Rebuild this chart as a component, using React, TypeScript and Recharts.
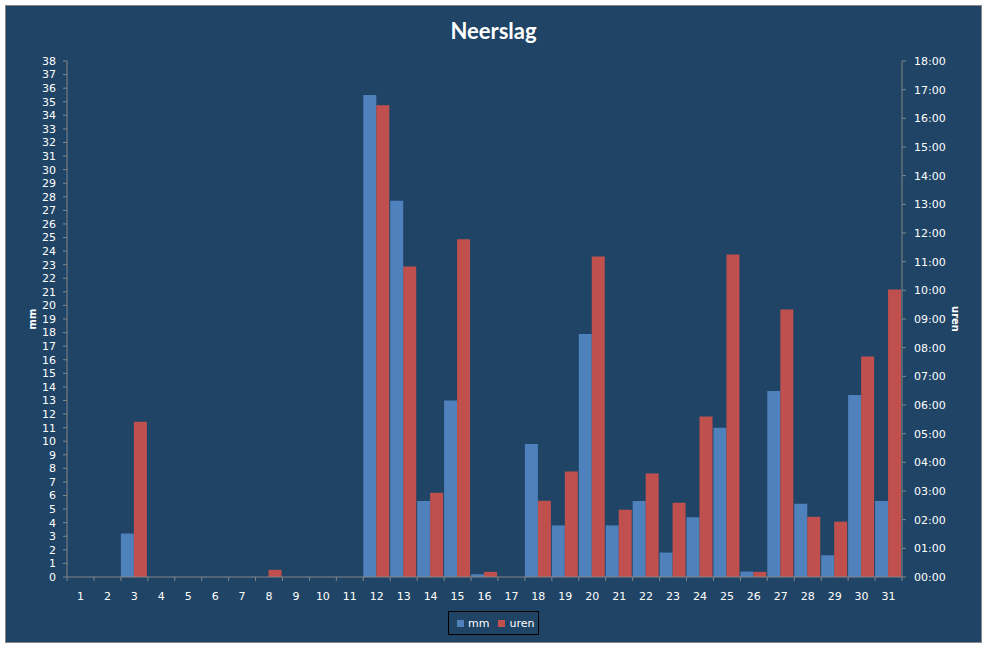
import React from 'react';
import { BarChart, Bar, XAxis, YAxis, Legend } from 'recharts';

const days = ['1','2','3','4','5','6','7','8','9','10','11','12','13','14','15','16','17','18','19','20','21','22','23','24','25','26','27','28','29','30','31'];
const mmValues = [0,0,3.2,0,0,0,0,0,0,0,0,35.5,27.7,5.6,13.0,0.2,0,9.8,3.8,17.9,3.8,5.6,1.8,4.4,11.0,0.4,13.7,5.4,1.6,13.4,5.6];
const urenValues = [0,0,5.42,0,0,0,0,0.25,0,0,0,16.46,10.83,2.94,11.78,0.18,0,2.66,3.68,11.18,2.35,3.61,2.59,5.6,11.25,0.18,9.33,2.1,1.93,7.69,10.03];
const leftTicks = [0,1,2,3,4,5,6,7,8,9,10,11,12,13,14,15,16,17,18,19,20,21,22,23,24,25,26,27,28,29,30,31,32,33,34,35,36,37,38];
const rightTicks = [0,1,2,3,4,5,6,7,8,9,10,11,12,13,14,15,16,17,18];
const rightTickLabels = ['00:00','01:00','02:00','03:00','04:00','05:00','06:00','07:00','08:00','09:00','10:00','11:00','12:00','13:00','14:00','15:00','16:00','17:00','18:00'];

const data = days.map((d, i) => ({ day: d, mm: mmValues[i], uren: urenValues[i] }));

const BG = '#1F4466';
const BLUE = '#4F81BD';
const RED = '#C0504D';
const AXIS = '#868686';
const FONT = 'DejaVu Sans';

const CategoryTick = (props: any) => {
  const { x, y, payload, index, visibleTicksCount, width } = props;
  const half = payload && typeof payload.offset === 'number' && payload.offset > 0
    ? payload.offset
    : width / visibleTicksCount / 2;
  const axisY = y - 15;
  return (
    <g>
      <line x1={x - half} x2={x - half} y1={axisY} y2={axisY + 4} stroke={AXIS} />
      {index === visibleTicksCount - 1 && (
        <line x1={x + half} x2={x + half} y1={axisY} y2={axisY + 4} stroke={AXIS} />
      )}
      <text x={x} y={y} dy="0.71em" textAnchor="middle" fill="#fff" fontSize={11} fontFamily={FONT}>
        {payload.value}
      </text>
    </g>
  );
};

const LegendBox = () => (
  <div
    style={{
      boxSizing: 'border-box',
      width: 91,
      height: 24,
      border: '1px solid #000',
      display: 'flex',
      alignItems: 'center',
      paddingLeft: 8,
      fontFamily: FONT,
      fontSize: 11,
      color: '#fff',
      lineHeight: '13px',
    }}
  >
    <span style={{ width: 7, height: 7, background: BLUE, display: 'inline-block', marginRight: 4 }} />
    <span style={{ marginRight: 9 }}>mm</span>
    <span style={{ width: 7, height: 7, background: RED, display: 'inline-block', marginRight: 4 }} />
    <span>uren</span>
  </div>
);

const MmLabel = (props: any) => {
  const vb = props.viewBox || { x: 0, y: 61, width: 67, height: 516 };
  const cx = vb.x + 32;
  const cy = vb.y + vb.height / 2;
  return (
    <text x={cx} y={cy} transform={`rotate(-90 ${cx} ${cy})`} textAnchor="middle" dominantBaseline="central"
      fill="#fff" fontSize={10} fontWeight="bold" fontFamily={FONT}>mm</text>
  );
};

const UrenLabel = (props: any) => {
  const vb = props.viewBox || { x: 902, y: 61, width: 85, height: 516 };
  const cx = vb.x + 53;
  const cy = vb.y + vb.height / 2;
  return (
    <text x={cx} y={cy} transform={`rotate(90 ${cx} ${cy})`} textAnchor="middle" dominantBaseline="central"
      fill="#fff" fontSize={10} fontWeight="bold" fontFamily={FONT}>uren</text>
  );
};

export default function App() {
  return (
    <div style={{ position: 'absolute', left: 0, top: 0, width: 987, height: 648, background: '#fff' }}>
      <div
        style={{
          position: 'absolute',
          left: 5,
          top: 5,
          width: 977,
          height: 638,
          boxSizing: 'border-box',
          border: `1px solid ${AXIS}`,
          background: BG,
        }}
      />
      <div
        style={{
          position: 'absolute',
          left: 0,
          top: 20,
          width: 987,
          textAlign: 'center',
          fontFamily: 'Lato',
          fontWeight: 'bold',
          fontSize: 22,
          lineHeight: '22px',
          color: '#fff',
        }}
      >
        Neerslag
      </div>
      <div style={{ position: 'absolute', left: 0, top: 0 }}>
        <BarChart
          width={987}
          height={648}
          data={data}
          margin={{ top: 61, right: 0, bottom: 0, left: 0 }}
          barCategoryGap={0}
          barGap={0}
        >
          <XAxis
            dataKey="day"
            xAxisId={0}
            height={71}
            interval={0}
            tickSize={4}
            tickMargin={11}
            tickLine={false}
            axisLine={{ stroke: AXIS }}
            tick={<CategoryTick />}
          />
          <YAxis
            yAxisId="left"
            orientation="left"
            width={67}
            domain={[0, 38]}
            ticks={leftTicks}
            interval={0}
            tickSize={4}
            tickMargin={7}
            axisLine={{ stroke: AXIS }}
            tickLine={{ stroke: AXIS }}
            tick={{ fill: '#fff', fontSize: 11, fontFamily: FONT }}
            allowDataOverflow
            label={<MmLabel />}
          />
          <YAxis
            yAxisId="right"
            orientation="right"
            width={85}
            domain={[0, 18]}
            ticks={rightTicks}
            interval={0}
            tickSize={4}
            tickMargin={8}
            axisLine={{ stroke: AXIS }}
            tickLine={{ stroke: AXIS }}
            tick={{ fill: '#fff', fontSize: 11, fontFamily: FONT }}
            tickFormatter={(v: number) => rightTickLabels[rightTicks.indexOf(v)] ?? String(v)}
            allowDataOverflow
            label={<UrenLabel />}
          />
          <Legend
            layout="horizontal"
            verticalAlign="middle"
            align="center"
            wrapperStyle={{ left: 448, top: 611, width: 91, height: 24 }}
            content={() => <LegendBox />}
          />
          <Bar yAxisId="left" dataKey="mm" name="mm" fill={BLUE} isAnimationActive={false} />
          <Bar yAxisId="right" dataKey="uren" name="uren" fill={RED} isAnimationActive={false} />
        </BarChart>
      </div>
    </div>
  );
}
